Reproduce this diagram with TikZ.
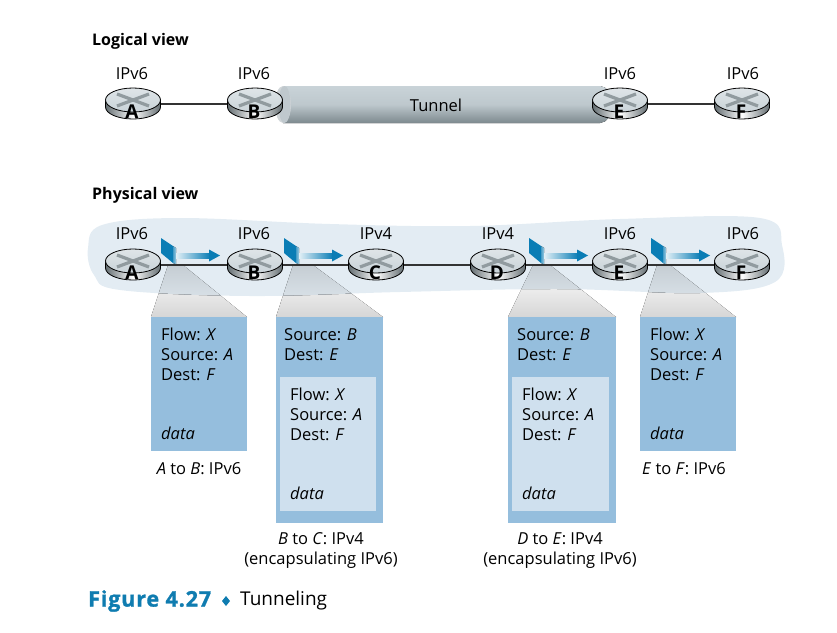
\documentclass[tikz,border=0pt]{standalone}
\usepackage{fontspec}
\usepackage{xcolor}
\setmainfont{Open Sans}
\newfontfamily\figfont[UprightFont={Open Sans Bold},UprightFeatures={FakeBold=1.4},LetterSpace=4]{Open Sans}
\usetikzlibrary{positioning}

\definecolor{pktblue}{HTML}{95BEDD}
\definecolor{innerblue}{HTML}{CFE0EE}
\definecolor{cloudblue}{HTML}{E3ECF3}
\definecolor{figblue}{HTML}{0F7CB0}
\definecolor{arrowblue}{HTML}{0A7DB5}
\definecolor{steeltop}{HTML}{C9D3D8}
\definecolor{steelbot}{HTML}{7D898E}

\newcommand{\cloudpath}{plot[smooth cycle, tension=0.6] coordinates {(88,248) (102,225) (180,218) (330,224) (470,226) (620,219) (760,218) (782,245) (775,282) (700,293) (560,289) (400,292) (250,296) (120,290) (94,275)}}

\tikzset{
  label/.style={font=\fontsize{16.5}{20}\selectfont, inner sep=0pt},
  heading/.style={font=\fontsize{16}{20}\selectfont\bfseries, anchor=west, inner sep=0pt},
  hopbox/.style={fill=pktblue, anchor=north west, inner sep=0pt},
  innerbox/.style={fill=innerblue, anchor=north west, inner sep=0pt},
  hoptext/.style={label, anchor=north west, align=left},
  routerbox/.style={minimum width=56pt, minimum height=30pt, inner sep=0pt},
  link/.style={line width=1.1pt, black!80},
  funnel/.style={top color=white, bottom color=black!16},
  funnelin/.style={top color=black!13!cloudblue, bottom color=cloudblue}
}

\newcommand{\router}[4]{
\begin{scope}[shift={(#2,#3)}]
\draw[line width=0.8pt, left color=steelbot!80!black, right color=steelbot!80!black, middle color=white]
  (-27.5,-4)--(-27.5,3) arc[start angle=180, end angle=0, x radius=27.5, y radius=12]--(27.5,-4)--cycle;
\draw[line width=0.8pt, top color=steeltop!60, bottom color=steeltop] (0,-4) ellipse[x radius=27.5, y radius=12];
\draw[line width=3.2pt, steelbot!85] (-16,-10)--(16,2);
\draw[line width=3.2pt, steelbot!85] (16,-10)--(-16,2);
\node[routerbox] (#1) at (0,0) {};
\node[font=\fontsize{19}{19}\selectfont\bfseries, inner sep=0pt, black] at (-1,7.5) {#4};
\end{scope}
}

\newcommand{\packet}[2]{
\begin{scope}[shift={(#1,#2)}]
\fill[arrowblue] (0,0)--(12,8)--(12,25)--(0,15)--cycle;
\fill[left color=arrowblue!75, right color=arrowblue!40] (12,8)--(15,10)--(15,26)--(12,25)--cycle;
\fill[left color=arrowblue!12, right color=arrowblue] (15,15)--(49,15)--(49,20)--(15,20)--cycle;
\fill[arrowblue] (48,11.5)--(59,17.5)--(48,23.5)--cycle;
\end{scope}
}

\newcommand{\funnelshape}[4]{
\fill[funnel] (#1,265)--(#2,265)--(#3,317)--(#4,317)--cycle;
}

\begin{document}
\begin{tikzpicture}[x=1pt,y=-1pt]

\useasboundingbox (0,0) rectangle (837,632);

\node[heading] (logical) at (92,41) {Logical view};

\node[heading] (physical) at (92,195) {Physical view};

\funnelshape{168}{183}{247}{151}
\funnelshape{293}{313}{383}{276}
\funnelshape{533}{550}{616}{508}
\funnelshape{657}{670}{736}{640}

\fill[cloudblue] \cloudpath;

\begin{scope}
\clip \cloudpath;
\fill[funnelin] (168,265)--(183,265)--(247,317)--(151,317)--cycle;
\fill[funnelin] (293,265)--(313,265)--(383,317)--(276,317)--cycle;
\fill[funnelin] (533,265)--(550,265)--(616,317)--(508,317)--cycle;
\fill[funnelin] (657,265)--(670,265)--(736,317)--(640,317)--cycle;
\end{scope}

\fill[top color=steeltop, bottom color=steelbot, middle color=steeltop!85!steelbot] (283,86)--(600,86) arc[start angle=-90, end angle=90, x radius=12, y radius=18.5]--(283,123)--cycle;

\fill[black!12!steeltop!60] (283,104.5) ellipse[x radius=8, y radius=18.5];

\fill[steeltop!95!black] (284.5,104.5) ellipse[x radius=6, y radius=18.5];

\node[label] (tunnel) at (436,105) {Tunnel};

\router{lA}{133}{104}{A}
\router{lB}{255}{104}{B}
\router{lE}{620}{104}{E}
\router{lF}{742}{104}{F}

\draw[link] (lA)--(lB);

\draw[link] (lE)--(lF);

\node[label] (lA6) at (132,74) {IPv6};
\node[label] (lB6) at (254,74) {IPv6};
\node[label] (lE6) at (620,74) {IPv6};
\node[label] (lF6) at (743,74) {IPv6};

\router{pA}{133}{265}{A}
\router{pB}{255}{265}{B}
\router{pC}{376}{265}{C}
\router{pD}{498}{265}{D}
\router{pE}{620}{265}{E}
\router{pF}{742}{265}{F}

\draw[link] (pA)--(pB);

\draw[link] (pB)--(pC);

\draw[link] (pC)--(pD);

\draw[link] (pD)--(pE);

\draw[link] (pE)--(pF);

\node[label] (pA6) at (132,234) {IPv6};
\node[label] (pB6) at (254,234) {IPv6};
\node[label] (pC4) at (376,234) {IPv4};
\node[label] (pD4) at (498,234) {IPv4};
\node[label] (pE6) at (620,234) {IPv6};
\node[label] (pF6) at (743,234) {IPv6};

\packet{161}{238}
\packet{284}{238}
\packet{529}{238}
\packet{651}{238}

\node[hopbox, minimum width=96pt, minimum height=134pt] (boxA) at (151,317) {};

\node[hopbox, minimum width=107pt, minimum height=206pt] (boxB) at (276,317) {};

\node[innerbox, minimum width=96pt, minimum height=134pt] (innerB) at (280,377) {};

\node[hopbox, minimum width=108pt, minimum height=206pt] (boxD) at (508,317) {};

\node[innerbox, minimum width=97pt, minimum height=134pt] (innerD) at (512,377) {};

\node[hopbox, minimum width=96pt, minimum height=134pt] (boxE) at (640,317) {};

\node[hoptext] (textA) at (161,328) {Flow: \textit{X}\\Source: \textit{A}\\Dest: \textit{F}};
\node[label, anchor=west] (dataA) at (161,433) {\textit{data}};
\node[label] (capA) at (199,469) {\textit{A} to \textit{B}: IPv6};

\node[hoptext] (textB) at (284,328) {Source: \textit{B}\\Dest: \textit{E}};
\node[hoptext] (flowB) at (290,388) {Flow: \textit{X}\\Source: \textit{A}\\Dest: \textit{F}};
\node[label, anchor=west] (dataB) at (290,493) {\textit{data}};
\node[label, align=center, anchor=north] (capB) at (321,532) {\textit{B} to \textit{C}: IPv4\\(encapsulating IPv6)};

\node[hoptext] (textD) at (517,328) {Source: \textit{B}\\Dest: \textit{E}};
\node[hoptext] (flowD) at (522,388) {Flow: \textit{X}\\Source: \textit{A}\\Dest: \textit{F}};
\node[label, anchor=west] (dataD) at (522,493) {\textit{data}};
\node[label, align=center, anchor=north] (capD) at (560,532) {\textit{D} to \textit{E}: IPv4\\(encapsulating IPv6)};

\node[hoptext] (textE) at (650,328) {Flow: \textit{X}\\Source: \textit{A}\\Dest: \textit{F}};
\node[label, anchor=west] (dataE) at (650,433) {\textit{data}};
\node[label] (capE) at (684,469) {\textit{E} to \textit{F}: IPv6};

\node[anchor=west, inner sep=0pt, font=\fontsize{21.5}{24}\selectfont\figfont, text=figblue] (figno) at (88,601) {Figure 4.27};

\fill[figblue] (226,596)--(230,601)--(226,606)--(222,601)--cycle;

\node[anchor=west, inner sep=0pt, font=\fontsize{19}{24}\selectfont] (figname) at (240,601) {Tunneling};

\end{tikzpicture}
\end{document}
